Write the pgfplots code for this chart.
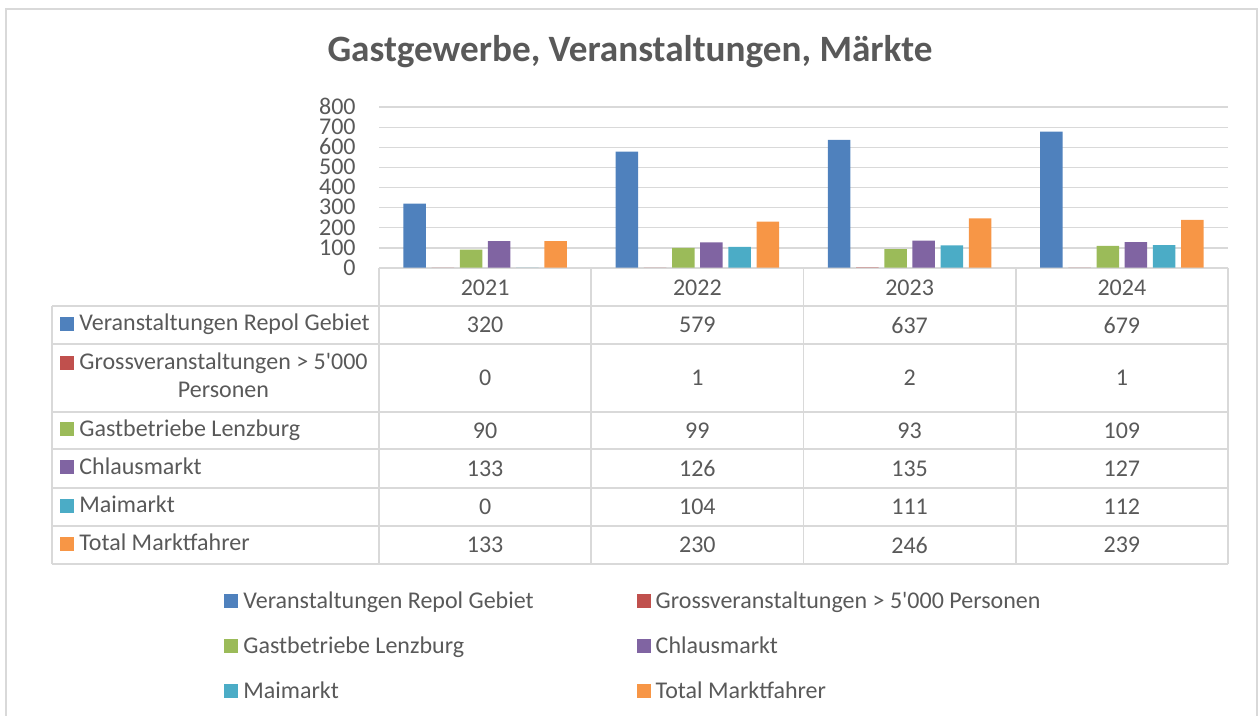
\documentclass[border=0pt]{standalone}
\usepackage{pgfplots}
\pgfplotsset{compat=1.18}
\usepackage{pgfplotstable}
\usepackage{fontspec}
\setmainfont{Carlito}

\definecolor{txt}{HTML}{595959}
\definecolor{grd}{HTML}{D9D9D9}
\definecolor{c1}{HTML}{4F81BD}
\definecolor{c2}{HTML}{C0504D}
\definecolor{c3}{HTML}{9BBB59}
\definecolor{c4}{HTML}{8064A2}
\definecolor{c5}{HTML}{4BACC6}
\definecolor{c6}{HTML}{F79646}

\pgfplotstableread{
year veranst gross gast chlaus mai total
2021 320 0 90 133 0 133
2022 579 1 99 126 104 230
2023 637 2 93 135 111 246
2024 679 1 109 127 112 239
}\data

\begin{document}
\fontsize{12pt}{14pt}\selectfont
\begin{tikzpicture}
% frame, title and the data table (coordinates in px of the reference)
\begin{scope}[x=0.5pt,y=-0.5pt]
  \useasboundingbox (0,0) rectangle (1260,716);
  \begin{scope}
    \clip (0,0) rectangle (1260,716);
    \draw[grd, line width=1pt] (6,9) rectangle (1257,740);
  \end{scope}
  \node[text=txt, font=\fontsize{18.6pt}{22pt}\selectfont\bfseries] at (630,52) {Gastgewerbe, Veranstaltungen, Märkte};
  % grid of the table
  \draw[grd, line width=0.9pt] (379,268) -- (1228,268);
  \foreach \yy in {306,344,412,449,488,526,564}
    \draw[grd, line width=0.9pt] (52,\yy) -- (1228,\yy);
  \draw[grd, line width=0.9pt] (52,306) -- (52,564);
  \foreach \xx in {379,591.25,803.5,1015.75,1228}
    \draw[grd, line width=0.9pt] (\xx,268) -- (\xx,564);
  % row headers
  \fill[c1] (60,317) rectangle (74,331);
  \node[anchor=base west, inner sep=0pt, text=txt] at (79,331) {Veranstaltungen Repol Gebiet};
  \fill[c2] (60,356) rectangle (74,370);
  \node[anchor=base west, inner sep=0pt, text=txt] at (79,370) {Grossveranstaltungen > 5\textquotesingle 000};
  \node[anchor=base, inner sep=0pt, text=txt] at (223.5,398) {Personen};
  \fill[c3] (60,422.5) rectangle (74,436.5);
  \node[anchor=base west, inner sep=0pt, text=txt] at (79,436.5) {Gastbetriebe Lenzburg};
  \fill[c4] (60,460.5) rectangle (74,474.5);
  \node[anchor=base west, inner sep=0pt, text=txt] at (79,474.5) {Chlausmarkt};
  \fill[c5] (60,499) rectangle (74,513);
  \node[anchor=base west, inner sep=0pt, text=txt] at (79,513) {Maimarkt};
  \fill[c6] (60,537) rectangle (74,551);
  \node[anchor=base west, inner sep=0pt, text=txt] at (79,551) {Total Marktfahrer};
  % values of the table, from \data
  \foreach \c/\yy in {veranst/325,gross/378,gast/430.5,chlaus/468.5,mai/507,total/545}{
    \foreach \r in {0,...,3}{
      \pgfplotstablegetelem{\r}{\c}\of\data
      \node[text=txt, inner sep=0pt] at ({485.1+212.25*\r},\yy) {\pgfplotsretval};
    }
  }
\end{scope}

\begin{axis}[
    at={(189.5pt,-133.85pt)}, anchor=south west,
    width=424.5pt, height=80.2pt, scale only axis,
    xmin=-0.5, xmax=3.5, ymin=0, ymax=800,
    ybar=2.85pt, bar width=11.25pt,
    axis line style={draw=none},
    major tick length=0pt,
    ytick={0,100,...,800},
    ymajorgrids, grid style={grd, line width=0.85pt},
    xtick={0,1,2,3}, xticklabels={2021,2022,2023,2024},
    xticklabel style={anchor=center, inner sep=0pt, yshift=-9.9pt},
    yticklabel style={anchor=east, inner sep=0pt, xshift=-11.5pt,
      text height=7.4pt, text depth=0pt},
    tick label style={text=txt},
    /pgf/number format/assume math mode=true,
    legend columns=2,
    legend cell align=left,
    legend style={at={(-0.18257,-2.0075)}, anchor=north west,
      draw=none, fill=none, inner sep=0pt, row sep=11pt,
      cells={anchor=base west},
      nodes={inner sep=0pt, text height=9pt, text depth=2.5pt, text=txt},
      /tikz/every even column/.append style={column sep=51.5pt}},
    legend image code/.code={\fill[#1] (0pt,0pt) rectangle (7pt,7pt); \path (9.5pt,0pt);},
]
\addplot[fill=c1, draw=none] table[x expr=\coordindex, y=veranst]{\data};
\addlegendentry{Veranstaltungen Repol Gebiet}
\addplot[fill=c2, draw=none] table[x expr=\coordindex, y=gross]{\data};
\addlegendentry{Grossveranstaltungen > 5\textquotesingle 000 Personen}
\addplot[fill=c3, draw=none] table[x expr=\coordindex, y=gast]{\data};
\addlegendentry{Gastbetriebe Lenzburg}
\addplot[fill=c4, draw=none] table[x expr=\coordindex, y=chlaus]{\data};
\addlegendentry{Chlausmarkt}
\addplot[fill=c5, draw=none] table[x expr=\coordindex, y=mai]{\data};
\addlegendentry{Maimarkt}
\addplot[fill=c6, draw=none] table[x expr=\coordindex, y=total]{\data};
\addlegendentry{Total Marktfahrer}
\end{axis}
\end{tikzpicture}
\end{document}
